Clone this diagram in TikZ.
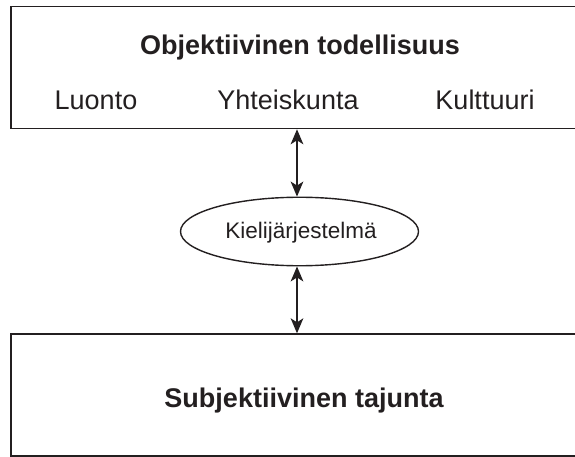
\documentclass[tikz,border=0pt]{standalone}
\usepackage{fontspec}
\setmainfont{Liberation Sans}
\usetikzlibrary{arrows.meta,shapes.geometric}
\definecolor{ink}{HTML}{231F20}
\begin{document}
\begin{tikzpicture}[x=1pt,y=-1pt,
  boxstyle/.style={draw=ink,line width=1.6pt,rectangle,inner sep=0pt,minimum width=579.3pt,minimum height=121.8pt},
  ellstyle/.style={draw=ink,line width=1.4pt,ellipse,inner sep=0pt,minimum width=238pt,minimum height=68.5pt},
  bigtxt/.style={anchor=base,text=ink,inner sep=0pt,font=\fontsize{27}{32}\selectfont},
  boldtxt/.style={bigtxt,font=\fontsize{27}{32}\selectfont\bfseries},
  smalltxt/.style={anchor=base,text=ink,inner sep=0pt,font=\fontsize{22.5}{27}\selectfont},
  arr/.style={draw=ink,line width=1.4pt,{Stealth[length=15pt,width=12.7pt,inset=4pt]}-{Stealth[length=15pt,width=12.7pt,inset=4pt]}}
]
\useasboundingbox (0,0) rectangle (575,457);
\node[boxstyle] (top) at (300.35,67.6) {};
\node[boxstyle] (bot) at (300.35,395) {};
\node[ellstyle] (ell) at (299.5,231.5) {};
\node[boldtxt] (title) at (300,55) {Objektiivinen todellisuus};
\node[bigtxt] (luonto) at (96,110) {Luonto};
\node[bigtxt] (yht) at (288,110) {Yhteiskunta};
\node[bigtxt] (kult) at (485,110) {Kulttuuri};
\node[smalltxt] (kieli) at (301,238) {Kielijärjestelmä};
\node[boldtxt] (subj) at (304,407) {Subjektiivinen tajunta};
\coordinate (ax) at (297,0);
\draw[arr] (top.south -| ax) -- (ell.north -| ax);
\draw[arr] (ell.south -| ax) -- (bot.north -| ax);
\end{tikzpicture}
\end{document}
